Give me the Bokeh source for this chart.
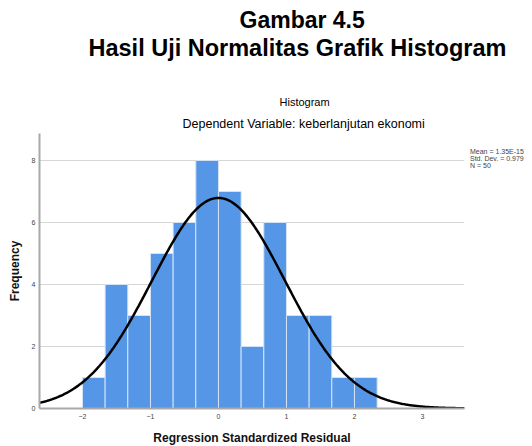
from bokeh.plotting import figure
from bokeh.models import Range1d, FixedTicker, ColumnDataSource, Title, Legend, LegendItem
from bokeh.embed import file_html
from bokeh.resources import INLINE
import numpy as np

# ---- data ----
bin_left = [-2.0, -1.6667, -1.3333, -1.0, -0.6667, -0.3333, 0.0,
            0.3333, 0.6667, 1.0, 1.3333, 1.6667, 2.0]
bin_width = 1.0 / 3.0
frequency = [1, 4, 3, 5, 6, 8, 7, 2, 6, 3, 3, 1, 1]
mean_val = 1.35e-15
std_dev = 0.979
n_obs = 50
x_ticks = [-2, -1, 0, 1, 2, 3]
y_ticks = [0, 2, 4, 6, 8]
stats_text = ["Mean = 1.35E-15", "Std. Dev. = 0.979", "N = 50"]

FL, FT, FW, FH = 39, 133, 425, 275
W, H = 532, 446

p = figure(width=W, height=H, frame_width=FW, frame_height=FH,
           output_backend="svg", toolbar_location=None,
           x_range=Range1d(-2.632, 3.618), y_range=Range1d(0, 8.87),
           min_border_left=FL, min_border_right=W - FL - FW,
           min_border_top=FT, min_border_bottom=H - FT - FH)
p.outline_line_color = None

src = ColumnDataSource(dict(
    left=bin_left,
    right=[b + bin_width for b in bin_left],
    top=frequency,
    bottom=[0] * len(frequency)))
p.quad(left="left", right="right", top="top", bottom="bottom", source=src,
       fill_color="#5596E6", line_color="#d4e3f6", line_width=1)

xs = np.linspace(-2.632, 3.618, 400)
ys = n_obs * bin_width * np.exp(-0.5 * ((xs - mean_val) / std_dev) ** 2) / (std_dev * np.sqrt(2 * np.pi))
p.line(xs, ys, line_color="black", line_width=2.5)

p.xgrid.grid_line_color = None
p.ygrid.grid_line_color = "#d6d6d6"
p.ygrid.level = "underlay"

for ax in (p.xaxis[0], p.yaxis[0]):
    ax.axis_line_color = "#a8a8a8"
    ax.axis_line_width = 2
    ax.major_tick_line_color = None
    ax.minor_tick_line_color = None
    ax.major_tick_out = 0
    ax.major_tick_in = 0
    ax.minor_tick_out = 0
    ax.minor_tick_in = 0
    ax.major_label_text_font = "Liberation Sans"
    ax.major_label_text_font_size = "7px"
    ax.major_label_text_color = "#444444"
    ax.axis_label_text_font = "Liberation Sans"
    ax.axis_label_text_font_size = "12px"
    ax.axis_label_text_font_style = "bold"
    ax.axis_label_text_color = "#111111"

p.xaxis.ticker = FixedTicker(ticks=x_ticks)
p.yaxis.ticker = FixedTicker(ticks=y_ticks)
p.xaxis.axis_label = "Regression Standardized Residual"
p.yaxis.axis_label = "Frequency"
p.xaxis.major_label_standoff = 5
p.xaxis.axis_label_standoff = 9
p.yaxis.major_label_standoff = 4
p.yaxis.axis_label_standoff = 7

# titles, nearest to the frame first
def add_title(text, size, style, offset, standoff, color="#111111"):
    p.add_layout(Title(text=text, align="left", offset=offset, standoff=standoff,
                       vertical_align="middle", text_font="Liberation Sans",
                       text_font_size=size, text_font_style=style,
                       text_color=color), "above")

add_title("Dependent Variable: keberlanjutan ekonomi", "12.5px", "normal", 143, 4, "black")
add_title("Histogram", "11px", "normal", 240, 10, "black")
add_title(" ", "10px", "normal", 0, 15)  # vertical gap above the chart titles
add_title("Hasil Uji Normalitas Grafik Histogram", "23.5px", "bold", 49, 0, "black")
add_title("Gambar 4.5", "23px", "bold", 200, 0, "black")

# statistics box at the right of the frame
dummy = p.line(x=[], y=[], line_alpha=0)
legend = Legend(items=[LegendItem(label=t, renderers=[dummy]) for t in stats_text],
                location=(6, 239), margin=0, padding=0, spacing=0,
                glyph_width=0, glyph_height=6, label_height=6, label_standoff=0,
                label_text_font="Liberation Sans", label_text_font_size="7px",
                label_text_color="#444444", border_line_color=None,
                background_fill_alpha=0)
p.add_layout(legend, "right")

open("out.html", "w").write(file_html(p, INLINE))
